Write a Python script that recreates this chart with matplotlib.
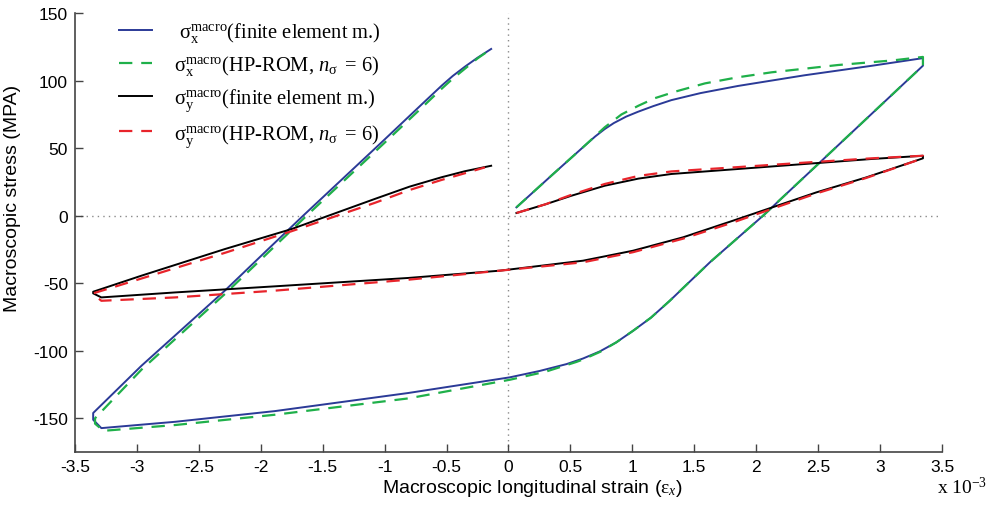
import matplotlib
matplotlib.use("Agg")
import matplotlib.pyplot as plt

plt.rcParams["font.family"] = ["Liberation Sans", "DejaVu Sans"]
plt.rcParams["axes.unicode_minus"] = False
plt.rcParams["mathtext.fontset"] = "custom"
plt.rcParams["mathtext.rm"] = "Liberation Serif"
plt.rcParams["mathtext.it"] = "Liberation Serif:italic"
plt.rcParams["mathtext.bf"] = "Liberation Serif:bold"

# Macroscopic strain (x 1e-3) and stress (MPa) along the cyclic loading path
strain_x_fe = [0.064, 0.35, 0.616, 0.7, 0.777, 0.85, 0.95, 1.046, 1.17, 1.315, 1.55, 1.853, 2.39, 2.93, 3.346,
               3.346, 2.62, 2.055, 1.626, 1.302, 1.15, 1.006, 0.87, 0.737, 0.6, 0.468, 0.25, 0.01, -0.81, -1.887,
               -2.69, -3.287, -3.353, -3.353, -2.963, -2.29, -1.94, -1.658, -1.024, -0.7, -0.54, -0.45,
               -0.35, -0.25, -0.14]
stress_x_fe = [6.2, 30.0, 51.9, 58.7, 64.2, 68.6, 73.4, 77.0, 81.2, 85.6, 90.8, 96.1, 104.0, 111.0, 116.7,
               111.1, 48.6, 0.0, -34.5, -63.0, -75.5, -85.2, -93.8, -100.5, -105.8, -109.9, -115.0, -119.7,
               -131.3, -144.7, -152.6, -157.3, -151.1, -146.1, -111.1, -55.5, -24.7, 0.0, 54.4, 82.5, 96.3,
               103.5, 110.5, 117.0, 123.5]

strain_x_rom = [0.064, 0.35, 0.616, 0.7, 0.777, 0.912, 1.05, 1.18, 1.35, 1.586, 1.85, 2.124, 2.66, 3.1, 3.346,
                3.346, 2.62, 2.055, 1.626, 1.302, 1.15, 1.006, 0.87, 0.74, 0.6, 0.548, 0.3, 0.01, -0.81, -1.887,
                -2.69, -3.27, -3.338, -3.338, -2.963, -2.29, -1.63, -1.024, -0.7, -0.54, -0.45, -0.35,
                -0.25, -0.14]
stress_x_rom = [6.2, 30.0, 51.9, 59.0, 65.5, 75.0, 81.5, 87.0, 92.0, 98.0, 102.5, 106.2, 111.6, 115.0, 117.6,
                111.1, 48.6, 0.0, -34.5, -63.0, -75.5, -85.2, -93.8, -100.8, -106.5, -108.3, -115.5, -121.5,
                -135.3, -147.4, -155.0, -159.3, -154.0, -150.0, -114.0, -58.0, 0.0, 52.0, 80.0, 94.0,
                101.5, 109.0, 116.5, 123.5]

strain_y_fe = [0.064, 0.3, 0.508, 0.777, 1.05, 1.315, 1.853, 2.39, 2.93, 3.346,
               3.346, 2.889, 2.486, 2.108, 1.812, 1.409, 1.006, 0.602, -0.07, -0.81, -1.887,
               -2.69, -3.287, -3.353, -3.353, -2.963, -2.29, -1.752, -1.08, -0.8, -0.54, -0.35, -0.14]
stress_y_fe = [2.0, 8.5, 14.8, 22.2, 27.5, 30.9, 34.6, 38.3, 42.0, 44.4,
               42.5, 28.4, 17.3, 5.5, -3.7, -16.0, -25.9, -33.3, -40.7, -46.1, -52.3,
               -56.8, -60.5, -57.5, -56.3, -44.4, -24.7, -9.9, 12.4, 21.5, 28.5, 33.0, 37.0]

strain_y_rom = [0.064, 0.3, 0.508, 0.777, 1.05, 1.315, 1.853, 2.39, 2.93, 3.346,
                3.346, 2.889, 2.486, 2.108, 1.812, 1.409, 1.006, 0.602, -0.07, -0.81, -1.887,
                -2.69, -3.287, -3.353, -3.353, -2.963, -2.29, -1.752, -1.08, -0.8, -0.54, -0.35, -0.19]
stress_y_rom = [2.0, 8.5, 15.5, 23.5, 29.5, 32.8, 36.0, 39.3, 42.5, 44.4,
                42.5, 28.0, 16.5, 4.5, -5.0, -17.0, -27.0, -34.5, -40.7, -47.4, -55.5,
                -60.5, -63.0, -58.0, -57.5, -46.5, -27.5, -11.5, 9.5, 19.0, 26.5, 31.5, 35.8]

x_ticks = [-3.5, -3, -2.5, -2, -1.5, -1, -0.5, 0, 0.5, 1, 1.5, 2, 2.5, 3, 3.5]
x_tick_labels = ["-3.5", "-3", "-2.5", "-2", "-1.5", "-1", "-0.5", "0",
                 "0.5", "1", "1.5", "2", "2.5", "3", "3.5"]
y_ticks = [-150, -100, -50, 0, 50, 100, 150]

labels = [
    r" $\mathrm{\sigma}_{\rm x}^{\rm macro}$(finite element m.)",
    r"$\mathrm{\sigma}_{\rm x}^{\rm macro}$(HP-ROM, $n_{\mathrm{\sigma}}\,$ = 6)",
    r"$\mathrm{\sigma}_{\rm y}^{\rm macro}$(finite element m.)",
    r"$\mathrm{\sigma}_{\rm y}^{\rm macro}$(HP-ROM, $n_{\mathrm{\sigma}}\,$ = 6)",
]

blue = "#2b3a97"
green = "#1fb04a"
red = "#e8242b"

fig = plt.figure(figsize=(9.89, 5.06), dpi=100)
ax = fig.add_axes([0.0758, 0.1047, 0.8767, 0.8673])

# dotted zero axes
ax.axhline(0, color="#8a8a8a", lw=1.0, ls=(0, (1, 3)), zorder=0)
ax.axvline(0, color="#8a8a8a", lw=1.0, ls=(0, (1, 3)), zorder=0)

ax.plot(strain_x_fe, stress_x_fe, color=blue, lw=1.4, label=labels[0])
ax.plot(strain_x_rom, stress_x_rom, color=green, lw=1.6, ls=(0, (6, 4)), label=labels[1])
ax.plot(strain_y_fe, stress_y_fe, color="black", lw=1.4, label=labels[2])
ax.plot(strain_y_rom, stress_y_rom, color=red, lw=1.6, ls=(0, (6, 4)), label=labels[3])

ax.set_xlim(-3.5, 3.5)
ax.set_ylim(-175, 150)
ax.set_xticks(x_ticks)
ax.set_xticklabels(x_tick_labels)
ax.set_yticks(y_ticks)
ax.set_yticklabels([str(v) for v in y_ticks])

for side in ("top", "right"):
    ax.spines[side].set_visible(False)
for side in ("left", "bottom"):
    ax.spines[side].set_color("#444444")
    ax.spines[side].set_linewidth(1.2)
ax.tick_params(direction="in", length=6, width=1.0, color="#444444",
               labelsize=12.5, pad=5)

ax.set_ylabel("Macroscopic stress (MPA)", fontsize=14)
ax.yaxis.set_label_coords(-0.062, 0.581)
ax.set_xlabel(r"Macroscopic longitudinal strain ($\mathrm{\varepsilon}_{x}$)", fontsize=14)
ax.xaxis.set_label_coords(0.527, -0.057)

fig.text(0.947, 0.024, r"x 10$^{-3}$", fontsize=14, family="Liberation Serif")

leg = ax.legend(loc="upper left", bbox_to_anchor=(0.03, 1.027), frameon=False,
                handlelength=1.6, handletextpad=1.05, labelspacing=0.45,
                prop={"family": "Liberation Serif", "size": 14.8})

fig.savefig("out.png", dpi=100)
